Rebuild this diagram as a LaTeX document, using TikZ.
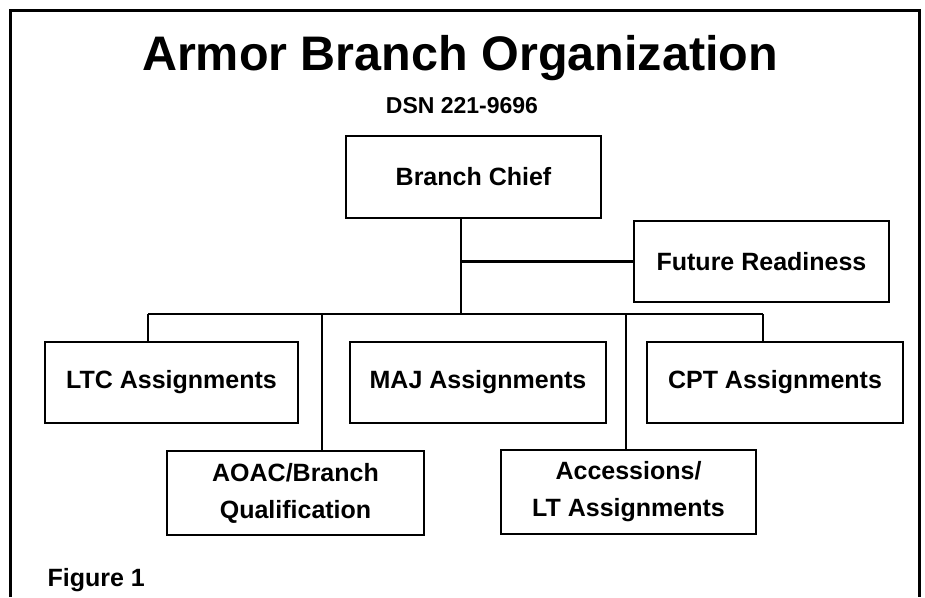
\documentclass[tikz,border=0pt]{standalone}
\usepackage{fontspec}
\setmainfont{Liberation Sans}
\usepackage{tikz}

\begin{document}
\begin{tikzpicture}[x=1pt,y=-1pt,
    orgbox/.style={draw, line width=2.6pt, inner sep=0pt, align=center,
      font=\bfseries\fontsize{25}{37}\selectfont},
    conn/.style={line width=2.2pt}]
  \useasboundingbox (0,0) rectangle (925,597);
  % frame, open at the bottom
  \draw[line width=3pt] (10,597) -- (10,10) -- (919,10) -- (919,597);

  \node[anchor=base, font=\bfseries\fontsize{48.5}{48.5}\selectfont] (title) at (460,70) {Armor Branch Organization};
  \node[anchor=base, font=\bfseries\fontsize{23}{23}\selectfont] (dsn) at (462,113) {DSN 221-9696};

  \node[orgbox, minimum width=255pt, minimum height=82pt] (chief) at (473.5,177) {Branch Chief};
  \node[orgbox, minimum width=255pt, minimum height=81pt] (future) at (761.5,261.5) {Future Readiness};
  \node[orgbox, minimum width=253pt, minimum height=81pt] (ltc) at (171.5,382.5) {LTC Assignments};
  \node[orgbox, minimum width=256pt, minimum height=81pt] (maj) at (478,382.5) {MAJ Assignments};
  \node[orgbox, minimum width=256pt, minimum height=81pt] (cpt) at (775,382.5) {CPT Assignments};
  \node[orgbox, minimum width=257pt, minimum height=84pt] (aoac) at (295.5,493) {AOAC/Branch\\Qualification};
  \node[orgbox, minimum width=255pt, minimum height=84pt] (access) at (628.5,492) {Accessions/\\LT Assignments};

  \node[anchor=base west, font=\bfseries\fontsize{25}{25}\selectfont] (fig) at (44,586) {Figure 1};

  % connectors
  \coordinate (trunk) at (461,314);
  \coordinate (busL) at (148,314);
  \coordinate (busR) at (763,314);
  \coordinate (dropA) at (322,314);
  \coordinate (dropB) at (626,314);
  \draw[conn] (trunk |- chief.south) -- (trunk);
  \draw[conn] (trunk |- future.west) -- (future.west);
  \draw[conn] (busL) -- (busR);
  \draw[conn] (busL) -- (busL |- ltc.north);
  \draw[conn] (busR) -- (busR |- cpt.north);
  \draw[conn] (dropA) -- (dropA |- aoac.north);
  \draw[conn] (dropB) -- (dropB |- access.north);
\end{tikzpicture}
\end{document}
